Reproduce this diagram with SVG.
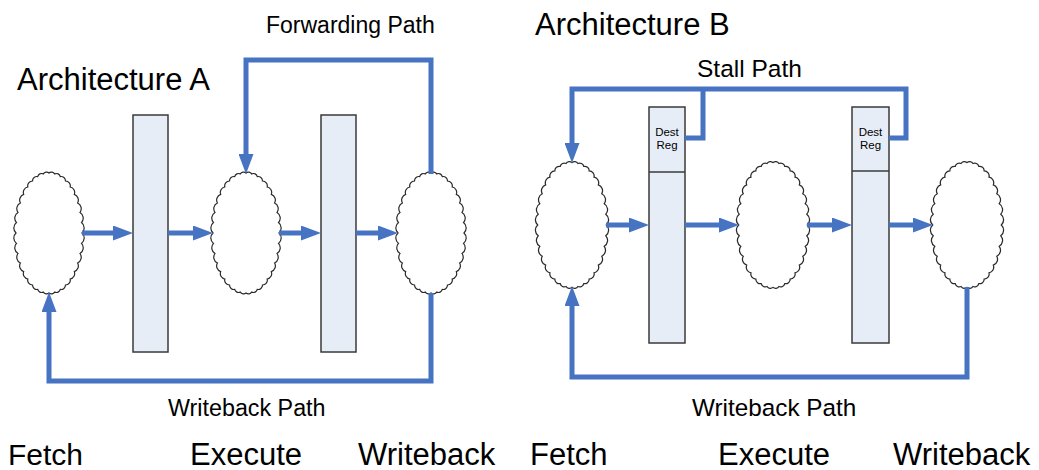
<svg xmlns="http://www.w3.org/2000/svg" xmlns:xlink="http://www.w3.org/1999/xlink" width="1039" height="470" viewBox="0 0 1039 470">
<style>
.t{font-family:"Liberation Sans",Arial,sans-serif;fill:#000}
.stage{fill:#E7EDF7;stroke:#3a3a3a;stroke-width:1.5}
.cloud{fill:#fff;stroke:#2a2a2a;stroke-width:1.2}
.wire{fill:none;stroke:#4673C2;stroke-width:5;stroke-linejoin:miter;stroke-linecap:butt}
.arr{marker-end:url(#ah)}
</style>
<defs>
<marker id="ah" markerUnits="userSpaceOnUse" markerWidth="20" markerHeight="15" viewBox="0 0 20 15" refX="6" refY="7.5" orient="auto">
<path d="M0,0 L20,7.5 L0,15 z" fill="#4673C2"/>
</marker>
<path id="cl" d="M33,0 A6.8,6.8 0 0 1 32.5,10.4 A6.6,6.6 0 0 1 31,20.5 A6.4,6.4 0 0 1 28.6,30 A6,6 0 0 1 25.3,38.6 A5.5,5.5 0 0 1 21.2,46 A4.9,4.9 0 0 1 16.5,52 A4.4,4.4 0 0 1 11.3,56.4 A4,4 0 0 1 5.7,59.1 A3.8,3.8 0 0 1 0,60 A3.8,3.8 0 0 1 -5.7,59.1 A4,4 0 0 1 -11.3,56.4 A4.4,4.4 0 0 1 -16.5,52 A4.9,4.9 0 0 1 -21.2,46 A5.5,5.5 0 0 1 -25.3,38.6 A6,6 0 0 1 -28.6,30 A6.4,6.4 0 0 1 -31,20.5 A6.6,6.6 0 0 1 -32.5,10.4 A6.8,6.8 0 0 1 -33,0 A6.8,6.8 0 0 1 -32.5,-10.4 A6.6,6.6 0 0 1 -31,-20.5 A6.4,6.4 0 0 1 -28.6,-30 A6,6 0 0 1 -25.3,-38.6 A5.5,5.5 0 0 1 -21.2,-46 A4.9,4.9 0 0 1 -16.5,-52 A4.4,4.4 0 0 1 -11.3,-56.4 A4,4 0 0 1 -5.7,-59.1 A3.8,3.8 0 0 1 0,-60 A3.8,3.8 0 0 1 5.7,-59.1 A4,4 0 0 1 11.3,-56.4 A4.4,4.4 0 0 1 16.5,-52 A4.9,4.9 0 0 1 21.2,-46 A5.5,5.5 0 0 1 25.3,-38.6 A6,6 0 0 1 28.6,-30 A6.4,6.4 0 0 1 31,-20.5 A6.6,6.6 0 0 1 32.5,-10.4 A6.8,6.8 0 0 1 33,0 Z"/>
</defs>
<rect width="1039" height="470" fill="#fff"/>

<g id="titles">
<text class="t" x="17" y="90" font-size="31">Architecture A</text>
<text class="t" x="535" y="35" font-size="31">Architecture B</text>
</g>

<!-- Architecture A nodes -->
<g id="a-fetch"><use xlink:href="#cl" class="cloud" transform="translate(49,233)"/></g>
<g id="a-reg1"><rect class="stage" x="133" y="115" width="35" height="237"/></g>
<g id="a-execute"><use xlink:href="#cl" class="cloud" transform="translate(246,233)"/></g>
<g id="a-reg2"><rect class="stage" x="321" y="115" width="35" height="237"/></g>
<g id="a-writeback"><use xlink:href="#cl" class="cloud" transform="translate(431,233)"/></g>

<!-- Architecture B nodes -->
<g id="b-fetch"><use xlink:href="#cl" class="cloud" transform="translate(572,225) scale(1.04)"/></g>
<g id="b-reg1">
<rect class="stage" x="649" y="107" width="36" height="236"/>
<line x1="649" y1="172" x2="685" y2="172" stroke="#3a3a3a" stroke-width="1.5"/>
<text class="t" x="667" y="136" font-size="11.5" text-anchor="middle">Dest</text>
<text class="t" x="667" y="149" font-size="11.5" text-anchor="middle">Reg</text>
</g>
<g id="b-execute"><use xlink:href="#cl" class="cloud" transform="translate(773,225) scale(1.04)"/></g>
<g id="b-reg2">
<rect class="stage" x="852" y="107" width="37" height="236"/>
<line x1="852" y1="171" x2="889" y2="171" stroke="#3a3a3a" stroke-width="1.5"/>
<text class="t" x="870.5" y="136" font-size="11.5" text-anchor="middle">Dest</text>
<text class="t" x="870.5" y="149" font-size="11.5" text-anchor="middle">Reg</text>
</g>
<g id="b-writeback"><use xlink:href="#cl" class="cloud" transform="translate(967,225) scale(1.04)"/></g>

<g id="connectors">
<line class="wire arr" x1="82" y1="233" x2="119" y2="233"/>
<line class="wire arr" x1="168" y1="233" x2="199" y2="233"/>
<line class="wire arr" x1="279" y1="233" x2="307" y2="233"/>
<line class="wire arr" x1="356" y1="233" x2="384" y2="233"/>
<polyline class="wire arr" points="431,174 431,60 246,60 246,160"/>
<polyline class="wire arr" points="431,293 431,381 49,381 49,306"/>
<line class="wire arr" x1="606" y1="225" x2="635" y2="225"/>
<line class="wire arr" x1="685" y1="225" x2="725" y2="225"/>
<line class="wire arr" x1="807" y1="225" x2="838" y2="225"/>
<line class="wire arr" x1="889" y1="225" x2="919" y2="225"/>
<polyline class="wire arr" points="889,138 906,138 906,89 572,89 572,149"/>
<polyline class="wire" points="685,138 703,138 703,89"/>
<polyline class="wire arr" points="967,287 967,377 572,377 572,300"/>
</g>

<g id="labels">
<text class="t" x="266" y="33" font-size="23">Forwarding Path</text>
<text class="t" x="697" y="77" font-size="24.5">Stall Path</text>
<text class="t" x="168" y="416" font-size="23.3">Writeback Path</text>
<text class="t" x="692" y="416" font-size="24.3">Writeback Path</text>
<text class="t" x="8" y="465" font-size="30">Fetch</text>
<text class="t" x="190" y="465" font-size="31">Execute</text>
<text class="t" x="358" y="465" font-size="31">Writeback</text>
<text class="t" x="530" y="465" font-size="31">Fetch</text>
<text class="t" x="718" y="465" font-size="31">Execute</text>
<text class="t" x="893" y="465" font-size="31">Writeback</text>
</g>
</svg>
